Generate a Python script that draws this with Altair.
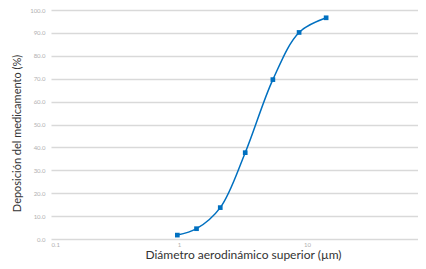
import altair as alt
import pandas as pd

diameter = [0.97, 1.37, 2.10, 3.29, 5.41, 8.67, 14.1]
deposition = [1.7, 4.5, 13.7, 37.7, 69.6, 90.2, 96.6]
x_ticks = [0.1, 1, 10]
y_ticks = [0, 10, 20, 30, 40, 50, 60, 70, 80, 90, 100]

df = pd.DataFrame({"d": diameter, "p": deposition})

FONT = "Lato"
BLUE = "#0070C0"

x = alt.X(
    "d:Q",
    scale=alt.Scale(type="log", domain=[0.1, 73.6], nice=False),
    axis=alt.Axis(
        values=x_ticks,
        format="~g",
        grid=False,
        domain=False,
        ticks=False,
        labelFontSize=6,
        labelColor="#b0b0b0",
        labelPadding=2,
        labelFont=FONT,
        title="Diámetro aerodinámico superior (µm)",
        titleFont=FONT,
        titleFontSize=12,
        titleFontWeight="normal",
        titleColor="#333333",
        titleY=10,
        titleX=192,
        titleBaseline="top",
    ),
)
y = alt.Y(
    "p:Q",
    scale=alt.Scale(domain=[0, 100], nice=False),
    axis=alt.Axis(
        values=y_ticks,
        format=".1f",
        grid=True,
        gridColor="#d9d9d9",
        gridWidth=1.5,
        domain=False,
        ticks=False,
        labelFontSize=6,
        labelColor="#b0b0b0",
        labelPadding=6,
        labelFont=FONT,
        title="Deposición del medicamento (%)",
        titleFont=FONT,
        titleFontSize=11,
        titleFontWeight="normal",
        titleColor="#333333",
        titleX=-29,
        titleY=123,
    ),
)

line = alt.Chart(df).mark_line(
    interpolate="catmull-rom", color=BLUE, strokeWidth=1.5
).encode(x=x, y=y)
pts = alt.Chart(df).mark_point(
    shape="square", filled=True, size=22, color=BLUE, opacity=1
).encode(x=x, y=y)

chart = (
    alt.layer(line, pts)
    .properties(
        width=367,
        height=229,
        autosize=alt.AutoSizeParams(type="none"),
        padding={"left": 43, "top": 2, "right": 0, "bottom": 24},
    )
    .configure_view(stroke=None)
)

chart.save("out.html", embed_options={"renderer": "svg", "actions": False})
